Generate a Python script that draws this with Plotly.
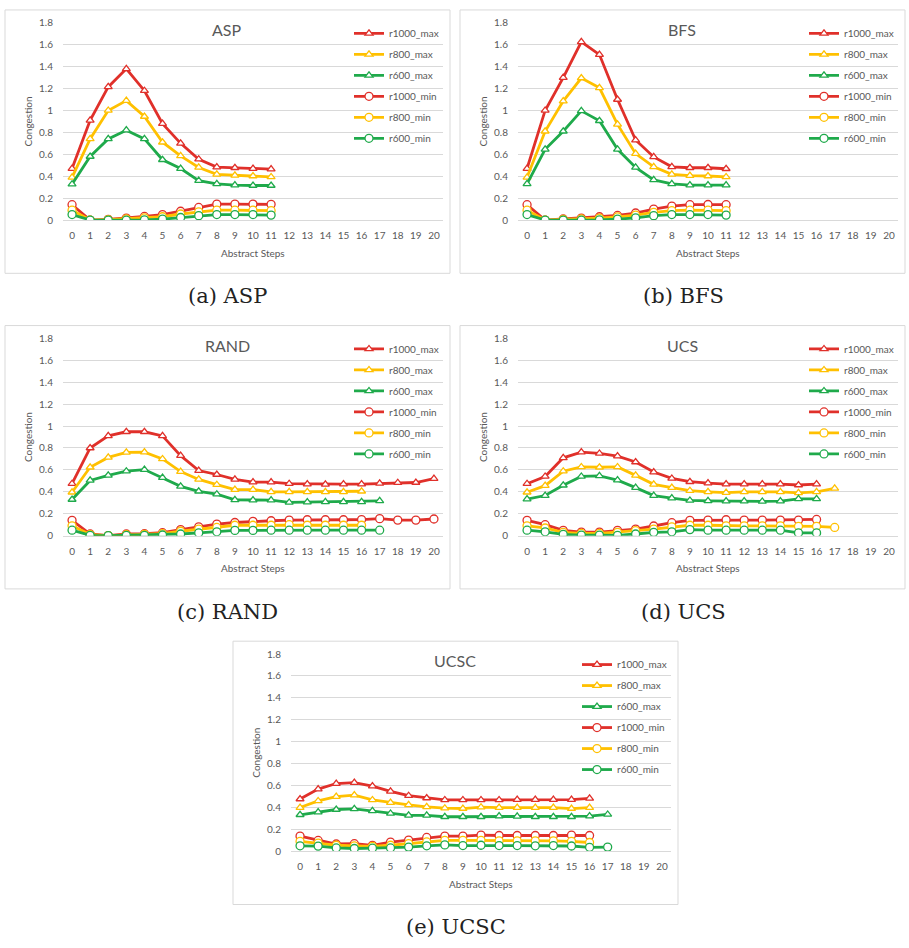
import plotly.graph_objects as go

W, H = 909, 948

STEPS = list(range(21))
Y_TICKS = [0, 0.2, 0.4, 0.6, 0.8, 1.0, 1.2, 1.4, 1.6, 1.8]
SERIES = ["r1000_max", "r800_max", "r600_max", "r1000_min", "r800_min", "r600_min"]
COLORS = {"r1000": "#E0302A", "r800": "#FFC000", "r600": "#1FAA4B"}

# ---- ASP ----
asp_r1000_max = [0.47, 0.91, 1.215, 1.38, 1.18, 0.88, 0.70, 0.555, 0.483, 0.477, 0.47, 0.465]
asp_r800_max = [0.39, 0.74, 1.0, 1.09, 0.945, 0.71, 0.585, 0.48, 0.417, 0.408, 0.402, 0.393]
asp_r600_max = [0.327, 0.58, 0.74, 0.82, 0.74, 0.55, 0.47, 0.36, 0.33, 0.318, 0.315, 0.315]
asp_r1000_min = [0.14, 0.0, 0.006, 0.018, 0.033, 0.05, 0.08, 0.115, 0.145, 0.145, 0.145, 0.143]
asp_r800_min = [0.09, 0.0, 0.003, 0.01, 0.02, 0.03, 0.055, 0.075, 0.09, 0.09, 0.09, 0.085]
asp_r600_min = [0.05, 0.0, 0.0, 0.0, 0.002, 0.008, 0.023, 0.04, 0.05, 0.05, 0.05, 0.045]

# ---- BFS ----
bfs_r1000_max = [0.47, 1.0, 1.30, 1.626, 1.51, 1.10, 0.73, 0.576, 0.486, 0.477, 0.477, 0.468]
bfs_r800_max = [0.39, 0.81, 1.086, 1.296, 1.206, 0.873, 0.606, 0.486, 0.417, 0.405, 0.402, 0.393]
bfs_r600_max = [0.33, 0.645, 0.81, 0.996, 0.906, 0.645, 0.48, 0.366, 0.33, 0.318, 0.318, 0.318]
bfs_r1000_min = [0.14, 0.0, 0.01, 0.018, 0.03, 0.042, 0.064, 0.10, 0.127, 0.14, 0.142, 0.14]
bfs_r800_min = [0.09, 0.0, 0.005, 0.01, 0.018, 0.028, 0.045, 0.07, 0.085, 0.09, 0.09, 0.085]
bfs_r600_min = [0.05, 0.0, 0.0, 0.0, 0.002, 0.008, 0.02, 0.04, 0.05, 0.05, 0.05, 0.045]

# ---- RAND ----
rand_r1000_max = [0.474, 0.80, 0.91, 0.948, 0.948, 0.91, 0.73, 0.594, 0.558, 0.513, 0.489,
                  0.489, 0.474, 0.471, 0.468, 0.471, 0.471, 0.477, 0.483, 0.485, 0.52]
rand_r800_max = [0.396, 0.624, 0.714, 0.76, 0.762, 0.70, 0.585, 0.513, 0.465, 0.42, 0.42,
                 0.40, 0.40, 0.40, 0.40, 0.40, 0.405]
rand_r600_max = [0.33, 0.504, 0.55, 0.588, 0.603, 0.53, 0.45, 0.405, 0.378, 0.327, 0.324,
                 0.324, 0.303, 0.306, 0.309, 0.309, 0.309, 0.318]
rand_r1000_min = [0.14, 0.015, 0.0, 0.015, 0.018, 0.027, 0.055, 0.08, 0.106, 0.12, 0.13,
                  0.136, 0.142, 0.145, 0.145, 0.145, 0.147, 0.155, 0.142, 0.142, 0.152]
rand_r800_min = [0.09, 0.01, 0.0, 0.008, 0.012, 0.018, 0.04, 0.06, 0.075, 0.095, 0.095,
                 0.095, 0.10, 0.095, 0.095, 0.095, 0.095]
rand_r600_min = [0.05, 0.003, 0.0, 0.003, 0.003, 0.006, 0.015, 0.025, 0.035, 0.048, 0.048,
                 0.05, 0.05, 0.05, 0.05, 0.05, 0.05, 0.05]

# ---- UCS ----
ucs_r1000_max = [0.474, 0.54, 0.71, 0.762, 0.75, 0.726, 0.672, 0.58, 0.522, 0.492, 0.48,
                 0.471, 0.471, 0.471, 0.471, 0.462, 0.471]
ucs_r800_max = [0.396, 0.456, 0.588, 0.627, 0.624, 0.627, 0.55, 0.468, 0.438, 0.41, 0.40,
                0.393, 0.40, 0.40, 0.40, 0.39, 0.40, 0.432]
ucs_r600_max = [0.333, 0.366, 0.46, 0.54, 0.546, 0.507, 0.438, 0.366, 0.342, 0.321, 0.318,
                0.315, 0.315, 0.312, 0.315, 0.336, 0.336]
ucs_r1000_min = [0.14, 0.10, 0.048, 0.033, 0.033, 0.048, 0.06, 0.088, 0.118, 0.14, 0.142,
                 0.145, 0.142, 0.142, 0.142, 0.142, 0.148]
ucs_r800_min = [0.09, 0.07, 0.03, 0.02, 0.02, 0.03, 0.045, 0.06, 0.08, 0.095, 0.095,
                0.09, 0.09, 0.09, 0.09, 0.085, 0.085, 0.075]
ucs_r600_min = [0.05, 0.035, 0.012, 0.005, 0.005, 0.003, 0.015, 0.03, 0.035, 0.055, 0.05,
                0.05, 0.05, 0.05, 0.05, 0.025, 0.025]

# ---- UCSC ----
ucsc_r1000_max = [0.477, 0.567, 0.618, 0.627, 0.594, 0.546, 0.507, 0.486, 0.468, 0.468, 0.468,
                  0.468, 0.471, 0.471, 0.471, 0.471, 0.483]
ucsc_r800_max = [0.399, 0.459, 0.498, 0.513, 0.468, 0.444, 0.423, 0.405, 0.393, 0.39, 0.402,
                 0.399, 0.399, 0.399, 0.399, 0.39, 0.399]
ucsc_r600_max = [0.333, 0.357, 0.381, 0.387, 0.369, 0.345, 0.327, 0.327, 0.315, 0.315, 0.315,
                 0.321, 0.318, 0.315, 0.315, 0.315, 0.321, 0.336]
ucsc_r1000_min = [0.138, 0.099, 0.066, 0.069, 0.054, 0.084, 0.102, 0.126, 0.138, 0.138, 0.147,
                  0.144, 0.144, 0.144, 0.144, 0.147, 0.144]
ucsc_r800_min = [0.09, 0.075, 0.055, 0.05, 0.045, 0.055, 0.07, 0.085, 0.10, 0.10, 0.10,
                 0.095, 0.095, 0.095, 0.095, 0.09, 0.08]
ucsc_r600_min = [0.05, 0.047, 0.03, 0.025, 0.028, 0.03, 0.038, 0.05, 0.058, 0.052, 0.055,
                 0.052, 0.052, 0.05, 0.052, 0.048, 0.036, 0.038]

PANELS = [
    dict(title="ASP", caption="(a) ASP", box=(5, 3),
         data=[asp_r1000_max, asp_r800_max, asp_r600_max, asp_r1000_min, asp_r800_min, asp_r600_min]),
    dict(title="BFS", caption="(b) BFS", box=(460, 3),
         data=[bfs_r1000_max, bfs_r800_max, bfs_r600_max, bfs_r1000_min, bfs_r800_min, bfs_r600_min]),
    dict(title="RAND", caption="(c) RAND", box=(5, 323),
         data=[rand_r1000_max, rand_r800_max, rand_r600_max, rand_r1000_min, rand_r800_min, rand_r600_min]),
    dict(title="UCS", caption="(d) UCS", box=(460, 323),
         data=[ucs_r1000_max, ucs_r800_max, ucs_r600_max, ucs_r1000_min, ucs_r800_min, ucs_r600_min]),
    dict(title="UCSC", caption="(e) UCSC", box=(233, 643),
         data=[ucsc_r1000_max, ucsc_r800_max, ucsc_r600_max, ucsc_r1000_min, ucsc_r800_min, ucsc_r600_min]),
]

BOX_W, BOX_H = 445, 267
FONT = "Lato, 'Open Sans', sans-serif"
GREY = "#595959"
GRID = "#D9D9D9"


def px(x):
    return x / W


def py(y):
    return 1 - y / H


fig = go.Figure()
layout = dict(
    width=W, height=H, margin=dict(l=0, r=0, t=0, b=0),
    paper_bgcolor="white", plot_bgcolor="white",
    font=dict(family=FONT, color=GREY, size=10),
    shapes=[], annotations=[],
)

for i, p in enumerate(PANELS):
    n = i + 1
    sfx = "" if n == 1 else str(n)
    bx, by = p["box"]
    legend_name = "legend" + sfx
    for name, vals in zip(SERIES, p["data"]):
        key, kind = name.split("_")
        col = COLORS[key]
        fig.add_trace(go.Scatter(
            x=STEPS[:len(vals)], y=vals, name=name, mode="lines+markers",
            line=dict(color=col, width=2.8),
            marker=dict(symbol="triangle-up" if kind == "max" else "circle",
                        size=7 if kind == "max" else 8,
                        color="white", line=dict(color=col, width=1.3)),
            xaxis="x" + sfx, yaxis="y" + sfx, legend=legend_name,
            legendgroup=f"{n}-{name}", showlegend=True,
        ))
    layout["xaxis" + sfx] = dict(
        domain=[px(bx + 58), px(bx + 438)], anchor="y" + sfx,
        range=[-0.5, 20.5], tickmode="array", tickvals=STEPS,
        ticktext=[str(s) for s in STEPS], showgrid=False, zeroline=False,
        showline=True, linecolor=GRID, linewidth=1, ticks="",
        tickfont=dict(size=10, color=GREY, family=FONT), ticklabelstandoff=6,
        fixedrange=True,
    )
    layout["yaxis" + sfx] = dict(
        domain=[py(by + 213), py(by + 13)], anchor="x" + sfx,
        range=[0, 1.8], tickmode="array", tickvals=Y_TICKS,
        ticktext=[f"{v:g}" for v in Y_TICKS], showgrid=True, gridcolor=GRID,
        gridwidth=1, zeroline=False, showline=False, ticks="",
        tickfont=dict(size=10, color=GREY, family=FONT), ticklabelstandoff=9,
        fixedrange=True,
    )
    layout[legend_name] = dict(
        x=px(bx + 344), y=py(by + 9), xanchor="left", yanchor="top",
        bgcolor="rgba(0,0,0,0)", borderwidth=0, traceorder="grouped",
        tracegroupgap=2, font=dict(size=10, color=GREY, family=FONT),
    )
    layout["shapes"].append(dict(
        type="rect", xref="paper", yref="paper",
        x0=px(bx), x1=px(bx + BOX_W), y0=py(by + BOX_H), y1=py(by),
        line=dict(color=GRID, width=1), fillcolor="rgba(0,0,0,0)", layer="below",
    ))
    anns = layout["annotations"]
    anns.append(dict(text=p["title"], x=px(bx + 222), y=py(by + 20), xref="paper", yref="paper",
                     showarrow=False, xanchor="center", yanchor="middle",
                     font=dict(size=16, color=GREY, family=FONT)))
    anns.append(dict(text="Congestion", x=px(bx + 23), y=py(by + 113), xref="paper", yref="paper",
                     showarrow=False, textangle=-90, xanchor="center", yanchor="middle",
                     font=dict(size=10, color=GREY, family=FONT)))
    anns.append(dict(text="Abstract Steps", x=px(bx + 248), y=py(by + 246), xref="paper", yref="paper",
                     showarrow=False, xanchor="center", yanchor="middle",
                     font=dict(size=10, color=GREY, family=FONT)))
    anns.append(dict(text=p["caption"], x=px(bx + 223), y=py(by + 290), xref="paper", yref="paper",
                     showarrow=False, xanchor="center", yanchor="middle",
                     font=dict(size=21, color="#222222", family="'DejaVu Serif', serif")))

fig.update_layout(**layout)
fig.write_html("out.html", config={"displayModeBar": False},
               post_script="document.body.style.margin='0px';document.body.style.overflow='hidden';")
